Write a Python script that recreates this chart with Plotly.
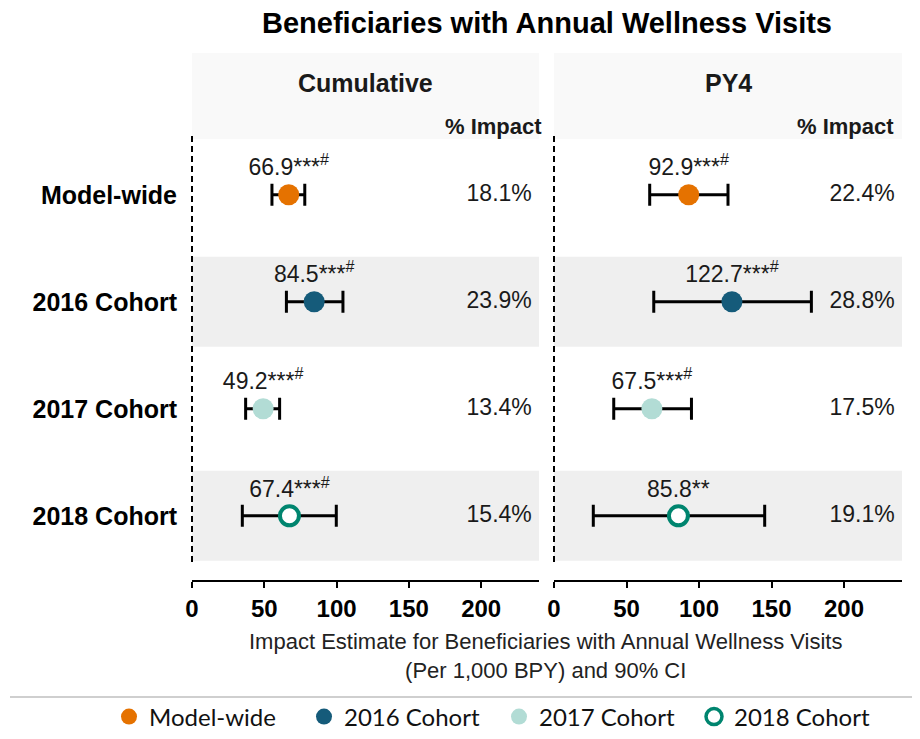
import plotly.graph_objects as go

# ---------------- data ----------------
categories = ["Model-wide", "2016 Cohort", "2017 Cohort", "2018 Cohort"]
row_pos = [1, 2, 3, 4]

cum_est = [66.9, 84.5, 49.2, 67.4]
cum_lo = [55.3, 65.3, 37.1, 34.8]
cum_hi = [78.0, 104.4, 60.6, 99.8]
cum_sig = ["***<sup>#</sup>", "***<sup>#</sup>", "***<sup>#</sup>", "***<sup>#</sup>"]
cum_pct = ["18.1%", "23.9%", "13.4%", "15.4%"]

py4_est = [92.9, 122.7, 67.5, 85.8]
py4_lo = [66.0, 68.8, 41.2, 27.1]
py4_hi = [120.0, 177.5, 94.8, 145.3]
py4_sig = ["***<sup>#</sup>", "***<sup>#</sup>", "***<sup>#</sup>", "**"]
py4_pct = ["22.4%", "28.8%", "17.5%", "19.1%"]

panel_titles = ["Cumulative", "PY4"]
x_ticks = [0, 50, 100, 150, 200]
x_range = [0, 240]
pct_x = 235

title_text = "Beneficiaries with Annual Wellness Visits"
x_title = "Impact Estimate for Beneficiaries with Annual Wellness Visits<br>(Per 1,000 BPY) and 90% CI"

# ---------------- style ----------------
colors = ["#E57200", "#155B7A", "#B2DCD5", "#00856F"]
fills = ["#E57200", "#155B7A", "#B2DCD5", "#FFFFFF"]
line_w = [0, 0, 0, 4]
FONT = "Liberation Sans, Arial, sans-serif"
TXT = "#1a1a1a"

OFF = 8  # browser body margin
W, H = 904, 723
# screen-space layout (reference pixels)
PL, PR, PT, PB = 192, 902, 137, 580
ML, MR, MT, MB = PL - OFF, W - (PR - OFF), PT - OFF, H - (PB - OFF)
PW = W - ML - MR
PH = H - MT - MB


def sx(px):
    """screen x -> paper x"""
    return (px - OFF - ML) / PW


def sy(py):
    """screen y -> paper y"""
    return (H - MB - (py - OFF)) / PH


dom_left = [0, sx(539)]
dom_right = [sx(554), 1]

fig = go.Figure()

panels = [
    ("x", "y", cum_est, cum_lo, cum_hi, cum_sig, cum_pct),
    ("x2", "y2", py4_est, py4_lo, py4_hi, py4_sig, py4_pct),
]

for xa, ya, est, lo, hi, sig, pct in panels:
    for i in range(len(categories)):
        fig.add_trace(go.Scatter(
            x=[est[i]], y=[row_pos[i]], xaxis=xa, yaxis=ya,
            mode="markers+text",
            text=[f"{est[i]:.1f}{sig[i]}"],
            textposition="top center",
            textfont=dict(family=FONT, size=23, color=TXT),
            marker=dict(size=21 if i < 3 else 19, color=fills[i],
                        line=dict(color=colors[i], width=line_w[i])),
            error_x=dict(type="data", symmetric=False,
                         array=[hi[i] - est[i]], arrayminus=[est[i] - lo[i]],
                         color="black", thickness=3, width=11),
            showlegend=False, hoverinfo="skip", cliponaxis=False,
        ))
    fig.add_trace(go.Scatter(
        x=[pct_x] * len(categories), y=row_pos, xaxis=xa, yaxis=ya,
        mode="text", text=pct, textposition="middle left",
        textfont=dict(family=FONT, size=23, color=TXT),
        showlegend=False, hoverinfo="skip", cliponaxis=False,
    ))

# legend-only traces
for i, name in enumerate(categories):
    fig.add_trace(go.Scatter(
        x=[None], y=[None], mode="markers", name=name,
        marker=dict(size=16, color=fills[i],
                    line=dict(color=colors[i], width=3.5 if i == 3 else 0)),
    ))

shapes = []
for xref in ["x", "x2"]:
    yref = "y" if xref == "x" else "y2"
    for r in [2, 4]:
        shapes.append(dict(type="rect", xref=f"{xref} domain", yref=yref,
                           x0=0, x1=1, y0=r - 0.42, y1=r + 0.42,
                           fillcolor="#EFEFEF", line=dict(width=0), layer="below"))
    shapes.append(dict(type="rect", xref=f"{xref} domain", yref="paper",
                       x0=0, x1=1, y0=sy(139), y1=sy(53),
                       fillcolor="#F9F9F9", line=dict(width=0), layer="below"))
    shapes.append(dict(type="line", xref=f"{xref} domain", yref="paper",
                       x0=0, x1=0, y0=sy(562), y1=sy(136),
                       line=dict(color="black", width=2, dash="6px,4px")))

shapes.append(dict(type="line", xref="paper", yref="paper",
                   x0=sx(10), x1=sx(920), y0=sy(697), y1=sy(697),
                   line=dict(color="#BFBFBF", width=1.5)))

annotations = []
centers = [(dom_left[0] + dom_left[1]) / 2, (dom_right[0] + dom_right[1]) / 2]
for c, t in zip(centers, panel_titles):
    annotations.append(dict(text=f"<b>{t}</b>", xref="paper", yref="paper",
                            x=c, y=sy(83), showarrow=False,
                            xanchor="center", yanchor="middle",
                            font=dict(family=FONT, size=25, color=TXT)))
for xr in [sx(544), sx(896)]:
    annotations.append(dict(text="<b>% Impact</b>", xref="paper", yref="paper",
                            x=xr, y=sy(127), showarrow=False,
                            xanchor="right", yanchor="middle",
                            font=dict(family=FONT, size=22, color=TXT)))
annotations.append(dict(text=x_title, xref="paper", yref="paper",
                        x=sx(545), y=sy(656), showarrow=False,
                        xanchor="center", yanchor="middle",
                        font=dict(family=FONT, size=22, color="#222222")))

axis_common = dict(range=x_range, tickvals=x_ticks, ticks="outside", ticklen=6,
                   tickwidth=1.5, tickcolor="black", showline=True, linecolor="black",
                   linewidth=1.5, showgrid=False, zeroline=False,
                   tickfont=dict(family=FONT, size=24, color="black", weight="bold"))

yaxis_common = dict(range=[4.6, 0.46], showgrid=False, zeroline=False,
                    showline=False, ticks="")

fig.update_layout(
    width=W, height=H,
    margin=dict(l=ML, r=MR, t=MT, b=MB, autoexpand=False),
    paper_bgcolor="white", plot_bgcolor="rgba(0,0,0,0)",
    title=dict(text=f"<b>{title_text}</b>", x=sx(547), xref="paper",
               xanchor="center", y=1 - (23 - OFF) / H, yanchor="middle",
               font=dict(family=FONT, size=29, color="black")),
    xaxis=dict(domain=dom_left, anchor="y", **axis_common),
    xaxis2=dict(domain=dom_right, anchor="y2", **axis_common),
    yaxis=dict(domain=[0, 1], anchor="x", tickvals=row_pos, ticktext=categories,
               tickfont=dict(family=FONT, size=25, color="black", weight="bold"),
               ticklabelstandoff=14, **yaxis_common),
    yaxis2=dict(domain=[0, 1], anchor="x2", showticklabels=False, **yaxis_common),
    shapes=shapes,
    annotations=annotations,
    showlegend=True,
    legend=dict(orientation="h", x=sx(109), xanchor="left",
                y=sy(717), yanchor="middle",
                font=dict(family="Lato, sans-serif", size=24, color="#111111"),
                itemwidth=30, entrywidth=150, entrywidthmode="pixels",
                tracegroupgap=0, bgcolor="rgba(0,0,0,0)"),
)

fig.write_html("out.html")
